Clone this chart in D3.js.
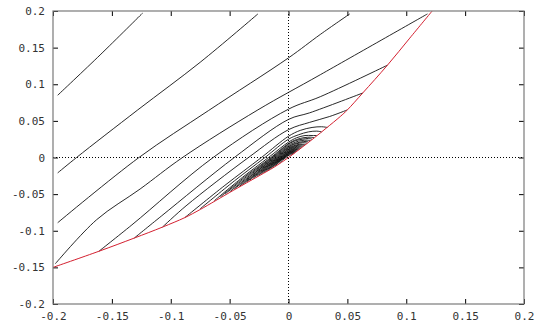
<!DOCTYPE html>
<html>
<head>
<meta charset="utf-8">
<script src="https://d3js.org/d3.v7.min.js"></script>
<style>
  * { margin: 0; padding: 0; }
  body { background: #fff; }
  .tick text { font-family: "DejaVu Sans Mono", monospace; font-size: 11px; fill: #333; }
</style>
</head>
<body>
<div id="chart"></div>
<script>
// tick values (both axes)
var xTicks = [-0.2, -0.15, -0.1, -0.05, 0, 0.05, 0.1, 0.15, 0.2];
var yTicks = [-0.2, -0.15, -0.1, -0.05, 0, 0.05, 0.1, 0.15, 0.2];

// red boundary, lower branch then upper branch
var boundary = [
  [-0.2, -0.15], [-0.161, -0.128], [-0.131, -0.110], [-0.107, -0.095],
  [-0.088, -0.082], [-0.075, -0.071], [-0.047, -0.045], [-0.025, -0.025],
  [-0.012, -0.013], [0, 0], [0.012, 0.0145], [0.022, 0.027], [0.032, 0.040],
  [0.044, 0.056], [0.050, 0.065], [0.063, 0.088], [0.084, 0.126],
  [0.103, 0.163], [0.122, 0.2]
];

// black level curves, outer ones first
var curves = [
  [[-0.196, 0.085], [-0.16, 0.14], [-0.124, 0.197]],
  [[-0.196, -0.021], [-0.18, 0.0], [-0.128, 0.065], [-0.075, 0.130], [-0.026, 0.196]],
  [[-0.196, -0.089], [-0.127, 0.0], [-0.068, 0.064], [0.0, 0.136], [0.027, 0.168], [0.052, 0.196]],
  [[-0.198, -0.145], [-0.163, -0.085], [-0.126, -0.043], [-0.090, 0.0], [-0.026, 0.065], [0.027, 0.113], [0.118, 0.196]],
  [[-0.161, -0.128], [-0.133, -0.092], [-0.064, 0.0], [0.0, 0.066], [0.027, 0.083], [0.084, 0.126]],
  [[-0.131, -0.110], [-0.108, -0.080], [-0.046, 0.0], [0.0, 0.052], [0.018, 0.061], [0.063, 0.088]],
  [[-0.107, -0.095], [-0.087, -0.066], [-0.034, 0.0], [0.0, 0.038], [0.018, 0.048], [0.035, 0.056], [0.050, 0.065]],
  [[-0.088, -0.082], [-0.054, -0.038], [-0.023, 0.0], [0.0, 0.029], [0.010, 0.037], [0.020, 0.041], [0.028, 0.042], [0.033, 0.041]],
  [[-0.075, -0.070], [-0.046, -0.032], [-0.020, 0.0], [0.0, 0.025], [0.0085, 0.031], [0.017, 0.035], [0.024, 0.036], [0.028, 0.035]],
  [[-0.063, -0.059], [-0.039, -0.027], [-0.017, 0.0], [0.0, 0.021], [0.007, 0.027], [0.014, 0.030], [0.020, 0.030], [0.024, 0.030]],
  [[-0.058, -0.054], [-0.036, -0.025], [-0.015, 0.0], [0.0, 0.019], [0.0066, 0.0244], [0.0132, 0.0271], [0.0185, 0.0277], [0.0218, 0.0271]],
  [[-0.054, -0.050], [-0.033, -0.023], [-0.014, 0.0], [0.0, 0.018], [0.006, 0.023], [0.012, 0.025], [0.017, 0.026], [0.020, 0.025]],
  [[-0.050, -0.047], [-0.0305, -0.0215], [-0.013, 0.0], [0.0, 0.0164], [0.0057, 0.0209], [0.0113, 0.0232], [0.0158, 0.0237], [0.0186, 0.0232]],
  [[-0.046, -0.043], [-0.028, -0.020], [-0.012, 0.0], [0.0, 0.015], [0.005, 0.019], [0.010, 0.021], [0.015, 0.022], [0.017, 0.021]],
  [[-0.042, -0.040], [-0.026, -0.018], [-0.011, 0.0], [0.0, 0.0139], [0.0048, 0.0178], [0.0096, 0.0197], [0.0134, 0.0202], [0.0158, 0.0197]],
  [[-0.039, -0.037], [-0.024, -0.017], [-0.010, 0.0], [0.0, 0.013], [0.0045, 0.016], [0.009, 0.018], [0.012, 0.018], [0.0145, 0.018]],
  [[-0.0356, -0.0335], [-0.0219, -0.0154], [-0.0093, 0.0], [0.0, 0.0117], [0.0041, 0.015], [0.0081, 0.0166], [0.0113, 0.017], [0.0134, 0.0166]],
  [[-0.033, -0.031], [-0.020, -0.014], [-0.0085, 0.0], [0.0, 0.011], [0.0037, 0.0137], [0.0074, 0.0152], [0.0104, 0.0155], [0.0122, 0.0152]],
  [[-0.030, -0.0285], [-0.0184, -0.0129], [-0.0078, 0.0], [0.0, 0.0099], [0.0034, 0.0126], [0.0068, 0.0139], [0.0095, 0.0143], [0.0112, 0.0139]],
  [[-0.027, -0.026], [-0.017, -0.012], [-0.007, 0.0], [0.0, 0.009], [0.003, 0.0115], [0.006, 0.0127], [0.0087, 0.013], [0.0102, 0.0127]],
  [[-0.0251, -0.0242], [-0.0154, -0.0108], [-0.0066, 0.0], [0.0, 0.0083], [0.0029, 0.0105], [0.0057, 0.0117], [0.008, 0.012], [0.0094, 0.0117]],
  [[-0.023, -0.0225], [-0.014, -0.010], [-0.006, 0.0], [0.0, 0.0075], [0.0026, 0.0096], [0.0052, 0.0107], [0.0073, 0.0109], [0.0086, 0.0107]],
  [[-0.0207, -0.0205], [-0.0127, -0.0089], [-0.0054, 0.0], [0.0, 0.0068], [0.0024, 0.0087], [0.0047, 0.0096], [0.0066, 0.0099], [0.0078, 0.0096]],
  [[-0.0185, -0.0185], [-0.0113, -0.008], [-0.0048, 0.0], [0.0, 0.0061], [0.0021, 0.0078], [0.0042, 0.0086], [0.0059, 0.0088], [0.0069, 0.0086]],
  [[-0.0167, -0.0168], [-0.0103, -0.0072], [-0.0044, 0.0], [0.0, 0.0055], [0.0019, 0.007], [0.0038, 0.0078], [0.0053, 0.008], [0.0063, 0.0078]],
  [[-0.015, -0.0152], [-0.0092, -0.0065], [-0.0039, 0.0], [0.0, 0.0049], [0.0017, 0.0063], [0.0034, 0.007], [0.0048, 0.0071], [0.0056, 0.007]],
  [[-0.0132, -0.0135], [-0.0081, -0.0057], [-0.0035, 0.0], [0.0, 0.0044], [0.0015, 0.0056], [0.003, 0.0062], [0.0042, 0.0063], [0.005, 0.0062]],
  [[-0.0114, -0.0117], [-0.007, -0.0049], [-0.003, 0.0], [0.0, 0.0038], [0.0013, 0.0048], [0.0026, 0.0053], [0.0036, 0.0055], [0.0043, 0.0053]],
  [[-0.0079, -0.0082], [-0.0049, -0.0034], [-0.0021, 0.0], [0.0, 0.0026], [0.0018, 0.0037], [0.0025, 0.0038], [0.003, 0.0037]]
];

var W = 545, H = 327;
var pLeft = 53, pRight = 524, pTop = 11, pBottom = 304;

var svg = d3.select("#chart").append("svg")
    .attr("width", W)
    .attr("height", H);

var x = d3.scaleLinear().domain([-0.2, 0.2]).range([pLeft, pRight]);
var y = d3.scaleLinear().domain([-0.2, 0.2]).range([pBottom, pTop]);

var fmt = function (d) { return String(+d.toFixed(2)); };

svg.append("clipPath").attr("id", "clip")
  .append("rect")
    .attr("x", pLeft).attr("y", pTop)
    .attr("width", pRight - pLeft).attr("height", pBottom - pTop);

// zero axes, dotted
svg.append("line")
    .attr("x1", x(0)).attr("x2", x(0))
    .attr("y1", pTop).attr("y2", pBottom)
    .attr("stroke", "#000").attr("stroke-dasharray", "1,2");
svg.append("line")
    .attr("x1", pLeft).attr("x2", pRight)
    .attr("y1", y(0)).attr("y2", y(0))
    .attr("stroke", "#000").attr("stroke-dasharray", "1,2");

// axes, ticks pointing inside like gnuplot (mirrored on top/right)
svg.append("g")
    .attr("transform", "translate(0," + pBottom + ")")
    .call(d3.axisBottom(x).tickValues(xTicks).tickFormat(fmt).tickSizeInner(-5).tickSizeOuter(0).tickPadding(8));
svg.append("g")
    .attr("transform", "translate(" + pLeft + ",0)")
    .call(d3.axisLeft(y).tickValues(yTicks).tickFormat(fmt).tickSizeInner(-5).tickSizeOuter(0).tickPadding(8));
svg.append("g")
    .attr("transform", "translate(0," + pTop + ")")
    .call(d3.axisTop(x).tickValues(xTicks).tickFormat("").tickSizeInner(-5).tickSizeOuter(0));
svg.append("g")
    .attr("transform", "translate(" + pRight + ",0)")
    .call(d3.axisRight(y).tickValues(yTicks).tickFormat("").tickSizeInner(-5).tickSizeOuter(0));

svg.selectAll(".domain").remove();
svg.selectAll(".tick line").attr("stroke", "#000");

var line = d3.line()
    .x(function (d) { return x(d[0]); })
    .y(function (d) { return y(d[1]); })
    .curve(d3.curveCatmullRom.alpha(0.5));

var plot = svg.append("g").attr("clip-path", "url(#clip)");

plot.selectAll(".lvl")
    .data(curves)
    .enter()
    .append("path")
    .attr("class", "lvl")
    .attr("d", line)
    .attr("fill", "none")
    .attr("stroke", "#111")
    .attr("stroke-width", 0.9);

plot.append("path")
    .datum(boundary)
    .attr("d", line)
    .attr("fill", "none")
    .attr("stroke", "#d42030")
    .attr("stroke-width", 1);

// border
svg.append("rect")
    .attr("x", pLeft).attr("y", pTop)
    .attr("width", pRight - pLeft).attr("height", pBottom - pTop)
    .attr("fill", "none")
    .attr("stroke", "#7a7a7a")
    .attr("stroke-width", 1.2);
</script>
</body>
</html>
